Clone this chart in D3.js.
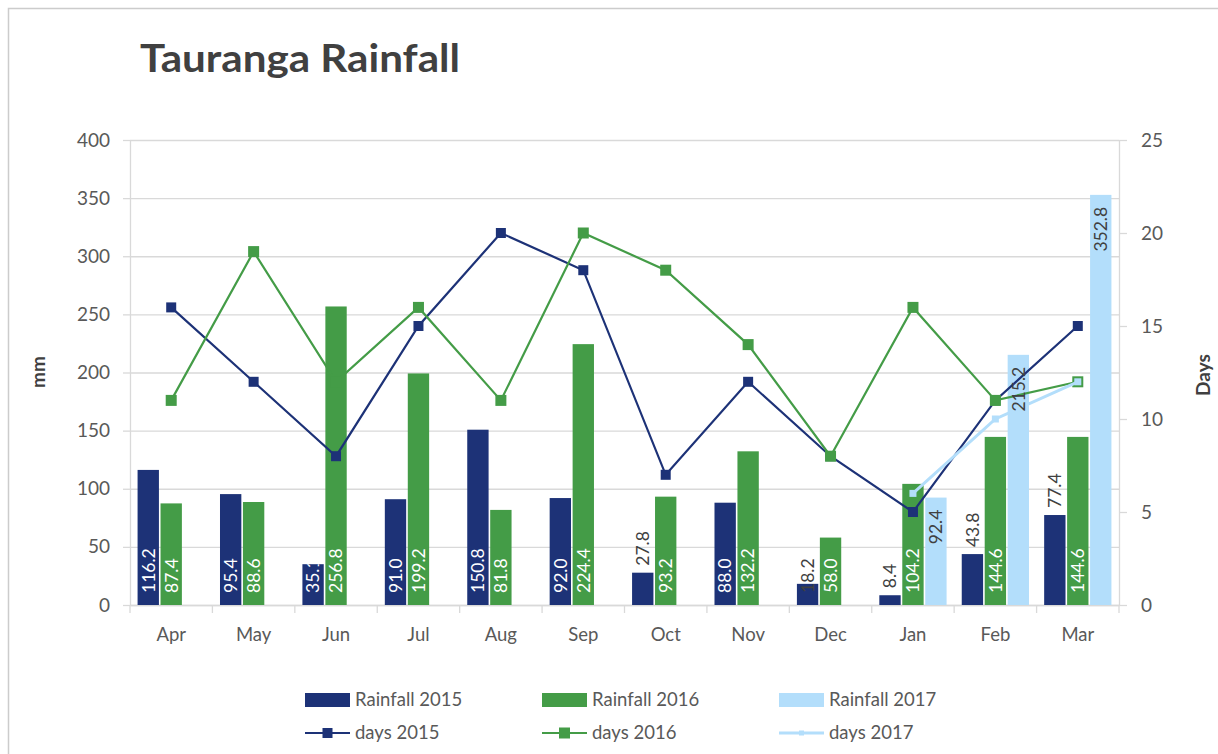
<!DOCTYPE html>
<html>
<head>
<meta charset="utf-8">
<title>Tauranga Rainfall</title>
<script src="https://cdn.jsdelivr.net/npm/d3@7"></script>
<style>
    body { margin: 0; background: #fff; }
    svg text { font-family: Lato, "Open Sans", sans-serif; }
</style>
</head>
<body>
<div id="chart"></div>
<script>

// chart values
const months = ["Apr", "May", "Jun", "Jul", "Aug", "Sep", "Oct", "Nov", "Dec", "Jan", "Feb", "Mar"];
const rain2015 = [116.2, 95.4, 35.1, 91.0, 150.8, 92.0, 27.8, 88.0, 18.2, 8.4, 43.8, 77.4];
const rain2016 = [87.4, 88.6, 256.8, 199.2, 81.8, 224.4, 93.2, 132.2, 58.0, 104.2, 144.6, 144.6];
const rain2017 = [null, null, null, null, null, null, null, null, null, 92.4, 215.2, 352.8];
const days2015 = [16, 12, 8, 15, 20, 18, 7, 12, 8, 5, 11, 15];
const days2016 = [11, 19, 12, 16, 11, 20, 18, 14, 8, 16, 11, 12];
const days2017 = [null, null, null, null, null, null, null, null, null, 6, 10, 12];
const mmTicks = [0, 50, 100, 150, 200, 250, 300, 350, 400];
const dayTicks = [0, 5, 10, 15, 20, 25];

// where each 2015 label sits (excel placed a few of them by hand)
const labelPlace2015 = ["base", "base", "base", "base", "base", "base", "end", "base", "baseDark", "end", "end", "end"];

const colors = {"2015": "#1d3277", "2016": "#449c47", "2017": "#b3defb"};


class RainfallChart {

    constructor(parentElement) {
        this.parentElement = parentElement;
        this.initVis();
    }

    // set up svg, scales and axes
    initVis() {
        let vis = this;

        vis.margin = {top: 140, right: 99, bottom: 149, left: 130};
        vis.width = 1218 - vis.margin.left - vis.margin.right;
        vis.height = 754 - vis.margin.top - vis.margin.bottom;

        vis.root = d3.select("#" + vis.parentElement).append("svg")
            .attr("width", 1218)
            .attr("height", 754);

        // chart area border
        vis.root.append("rect")
            .attr("x", 8.5).attr("y", 8.5)
            .attr("width", 1240).attr("height", 780)
            .attr("fill", "none")
            .attr("stroke", "#cccccc")
            .attr("stroke-width", 1.5);

        // title
        vis.root.append("text")
            .attr("x", 140)
            .attr("y", 72)
            .attr("font-size", 39)
            .attr("font-weight", "bold")
            .attr("fill", "#404040")
            .attr("textLength", 320)
            .attr("lengthAdjust", "spacingAndGlyphs")
            .text("Tauranga Rainfall");

        vis.svg = vis.root.append("g")
            .attr("transform", `translate(${vis.margin.left}, ${vis.margin.top})`);

        // scales
        vis.x = d3.scaleBand()
            .domain(months)
            .range([0, vis.width])
            .padding(0);

        vis.xSeries = d3.scaleBand()
            .domain(["2015", "2016", "2017"])
            .range([0, vis.x.bandwidth()])
            .paddingInner(0.07)
            .paddingOuter(0.33);

        vis.y = d3.scaleLinear()
            .domain([0, 400])
            .range([vis.height, 0]);

        vis.yDays = d3.scaleLinear()
            .domain([0, 25])
            .range([vis.height, 0]);

        vis.updateVis();
    }

    updateVis() {
        let vis = this;

        // grid lines + left axis
        let leftAxis = vis.svg.append("g")
            .attr("class", "axis")
            .call(d3.axisLeft(vis.y).tickValues(mmTicks).tickSize(7).tickPadding(13).tickSizeOuter(0));
        leftAxis.selectAll(".tick line").clone()
            .attr("x1", 0)
            .attr("x2", vis.width);

        // right axis
        let rightAxis = vis.svg.append("g")
            .attr("class", "axis")
            .attr("transform", `translate(${vis.width}, 0)`)
            .call(d3.axisRight(vis.yDays).tickValues(dayTicks).tickSize(8).tickPadding(14).tickSizeOuter(0));

        // bottom axis: labels at centres, ticks on the category borders
        let bottomAxis = vis.svg.append("g")
            .attr("class", "axis")
            .attr("transform", `translate(0, ${vis.height})`)
            .call(d3.axisBottom(vis.x).tickSize(0).tickPadding(23));
        bottomAxis.selectAll(".tick line").remove();
        bottomAxis.selectAll(".border")
            .data(d3.range(months.length + 1))
            .enter()
            .append("line")
            .attr("class", "border")
            .attr("x1", i => i * vis.x.step())
            .attr("x2", i => i * vis.x.step())
            .attr("y1", 0)
            .attr("y2", 8);

        vis.svg.selectAll(".axis path, .axis line")
            .attr("stroke", "#d9d9d9")
            .attr("stroke-width", 1.3);
        vis.svg.selectAll(".axis text")
            .attr("fill", "#595959")
            .attr("font-size", 19)
            .attr("font-family", "Lato, sans-serif");
        bottomAxis.selectAll("text").attr("font-size", 18.5);

        // axis titles
        vis.root.append("text")
            .attr("transform", "translate(38, 372) rotate(-90)")
            .attr("text-anchor", "middle")
            .attr("dy", "0.35em")
            .attr("font-size", 19)
            .attr("font-weight", "bold")
            .attr("fill", "#404040")
            .text("mm");
        vis.root.append("text")
            .attr("transform", "translate(1203, 375) rotate(-90)")
            .attr("text-anchor", "middle")
            .attr("dy", "0.35em")
            .attr("font-size", 19)
            .attr("font-weight", "bold")
            .attr("fill", "#404040")
            .text("Days");

        // bar rows
        let barRows = [];
        [["2015", rain2015], ["2016", rain2016], ["2017", rain2017]].forEach(function([year, values]) {
            values.forEach(function(v, i) {
                if (v !== null) barRows.push({year: year, month: months[i], index: i, value: v});
            });
        });

        vis.defs = vis.root.append("defs");

        vis.bars = vis.svg.append("g").selectAll("rect")
            .data(barRows)
            .enter()
            .append("rect")
            .attr("x", d => vis.x(d.month) + vis.xSeries(d.year))
            .attr("y", d => vis.y(d.value))
            .attr("width", vis.xSeries.bandwidth())
            .attr("height", d => vis.height - vis.y(d.value))
            .attr("fill", d => colors[d.year]);

        // day lines
        let lineRows = [["2015", days2015, 10, 2.2], ["2016", days2016, 11, 2.2], ["2017", days2017, 7, 3]];
        let line = d3.line()
            .defined(d => d.value !== null)
            .x(d => vis.x(d.month) + vis.x.bandwidth() / 2)
            .y(d => vis.yDays(d.value));

        lineRows.forEach(function([year, values, markerSize, strokeWidth]) {
            let pts = values.map((v, i) => ({month: months[i], value: v}));
            vis.svg.append("path")
                .datum(pts)
                .attr("d", line)
                .attr("fill", "none")
                .attr("stroke", colors[year])
                .attr("stroke-width", strokeWidth);

            vis.svg.append("g").selectAll("rect")
                .data(pts.filter(p => p.value !== null))
                .enter()
                .append("rect")
                .attr("x", d => vis.x(d.month) + vis.x.bandwidth() / 2 - markerSize / 2)
                .attr("y", d => vis.yDays(d.value) - markerSize / 2)
                .attr("width", markerSize)
                .attr("height", markerSize)
                .attr("fill", colors[year]);
        });

        // data labels
        let fmt = d3.format(".1f");
        let labels = vis.svg.append("g");
        barRows.forEach(function(d, k) {
            let cx = vis.x(d.month) + vis.xSeries(d.year) + vis.xSeries.bandwidth() / 2;
            let top = vis.y(d.value);
            let place = d.year === "2015" ? labelPlace2015[d.index] : (d.year === "2016" ? "base" : "insideEnd");
            let ypos, anchor, fill = "#404040", clip = null;

            if (place === "base") {
                ypos = vis.height - 12; anchor = "start"; fill = "#ffffff";
                clip = "clip-" + k;
                vis.defs.append("clipPath").attr("id", clip)
                    .append("rect")
                    .attr("x", vis.margin.left + cx - 20)
                    .attr("y", vis.margin.top + top)
                    .attr("width", 40)
                    .attr("height", vis.height - top);
            } else if (place === "baseDark") {
                ypos = vis.height - 12; anchor = "start";
            } else if (place === "end") {
                ypos = top - 7; anchor = "start";
            } else {
                ypos = top + 12; anchor = "end";
            }

            let t = labels.append("g")
                .append("text")
                .attr("transform", `translate(${cx}, ${ypos}) rotate(-90)`)
                .attr("text-anchor", anchor)
                .attr("dy", "0.36em")
                .attr("font-size", 17.5)
                .attr("fill", fill)
                .text(fmt(d.value));
            if (clip) {
                t.node().parentNode.setAttribute("clip-path", `url(#${clip})`);
                t.node().parentNode.setAttribute("transform", `translate(${-vis.margin.left}, ${-vis.margin.top})`);
                t.attr("transform", `translate(${cx + vis.margin.left}, ${ypos + vis.margin.top}) rotate(-90)`);
            }
        });

        vis.drawLegend();
    }

    // two-row legend under the chart
    drawLegend() {
        let vis = this;

        let entries = [
            {name: "Rainfall 2015", year: "2015", kind: "bar"},
            {name: "Rainfall 2016", year: "2016", kind: "bar"},
            {name: "Rainfall 2017", year: "2017", kind: "bar"},
            {name: "days 2015", year: "2015", kind: "line", marker: 10, sw: 2.2},
            {name: "days 2016", year: "2016", kind: "line", marker: 11, sw: 2.2},
            {name: "days 2017", year: "2017", kind: "line", marker: 5, sw: 3}
        ];

        let legend = vis.root.append("g");
        entries.forEach(function(e, i) {
            let gx = 305 + (i % 3) * 237;
            let gy = i < 3 ? 700 : 733;
            let item = legend.append("g").attr("transform", `translate(${gx}, ${gy})`);

            if (e.kind === "bar") {
                item.append("rect")
                    .attr("x", 0).attr("y", -7)
                    .attr("width", 45).attr("height", 14)
                    .attr("fill", colors[e.year]);
            } else {
                item.append("line")
                    .attr("x1", 0).attr("x2", 45)
                    .attr("stroke", colors[e.year])
                    .attr("stroke-width", e.sw);
                item.append("rect")
                    .attr("x", 22.5 - e.marker / 2).attr("y", -e.marker / 2)
                    .attr("width", e.marker).attr("height", e.marker)
                    .attr("fill", colors[e.year]);
            }

            item.append("text")
                .attr("x", 50)
                .attr("dy", "0.35em")
                .attr("font-size", 18.5)
                .attr("fill", "#595959")
                .text(e.name);
        });
    }
}

new RainfallChart("chart");

</script>
</body>
</html>
